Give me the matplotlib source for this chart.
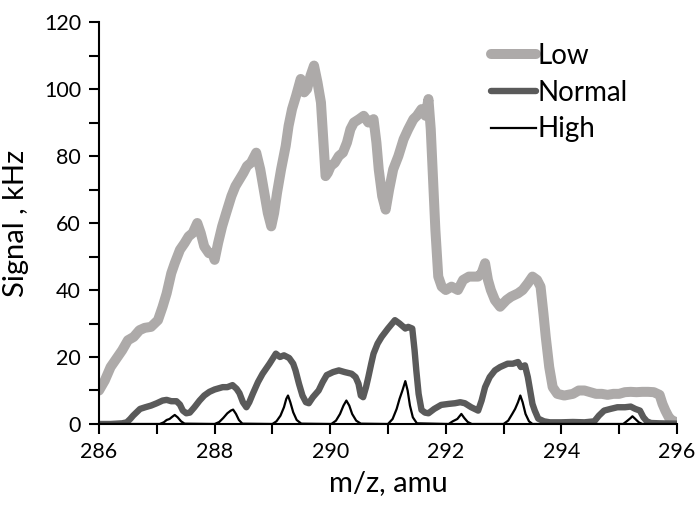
import matplotlib
matplotlib.use("Agg")
import matplotlib.pyplot as plt
from matplotlib.ticker import MultipleLocator

plt.rcParams['font.family'] = ['Lato', 'DejaVu Sans']

low_x = [286.0, 286.1, 286.2, 286.28, 286.4, 286.5, 286.6, 286.7, 286.79, 286.9, 287.02, 287.1, 287.17, 287.25,
         287.31, 287.4, 287.48, 287.55, 287.62, 287.70, 287.76, 287.82, 287.9, 287.96, 288.0, 288.06, 288.13, 288.2,
         288.29, 288.36, 288.43, 288.5, 288.56, 288.63, 288.72, 288.79, 288.86, 288.92, 288.98, 289.03, 289.08, 289.15,
         289.23, 289.28, 289.34, 289.41, 289.49, 289.55, 289.6, 289.66, 289.72, 289.78, 289.84, 289.88, 289.92, 289.96,
         290.01, 290.08, 290.15, 290.22, 290.29, 290.35, 290.41, 290.5, 290.58, 290.66, 290.75, 290.8, 290.84, 290.9,
         290.96, 291.02, 291.09, 291.18, 291.27, 291.35, 291.44, 291.5, 291.58, 291.65, 291.70, 291.74, 291.78, 291.82,
         291.87, 291.93, 292.0, 292.1, 292.21, 292.3, 292.4, 292.5, 292.56, 292.62, 292.68, 292.73, 292.78, 292.85,
         292.94, 293.05, 293.13, 293.25, 293.33, 293.42, 293.5, 293.58, 293.64, 293.69, 293.73, 293.79, 293.85, 293.93,
         294.05, 294.2, 294.3, 294.4, 294.5, 294.6, 294.7, 294.8, 294.9, 295.0, 295.1, 295.2, 295.3, 295.4, 295.5,
         295.6, 295.7, 295.75, 295.8, 295.86, 295.92, 296.0]
low_y = [10, 13, 17, 19, 22, 25, 26, 28, 28.7, 29, 31, 35, 39, 45,
         48, 52, 54, 56, 57, 60, 57, 53, 51, 51, 49, 54, 59, 63,
         68, 71, 73, 75, 77, 78, 81, 76, 69, 63, 59, 63, 69, 76,
         83, 89, 94, 98, 103, 99, 100, 104, 107, 102, 96, 85, 74, 75,
         77, 78, 80, 81, 84, 88, 90, 91, 92, 90, 91, 84, 76, 68,
         64, 70, 76, 80, 85, 88, 91, 92, 94, 92, 97, 88, 73, 58,
         44, 41, 40, 41, 40, 43, 44, 44, 44, 45, 48, 43, 40, 37,
         35, 37, 38, 39, 40, 42, 44, 43, 41, 33, 26, 17, 11, 9,
         8.5, 9, 10, 10, 9.5, 9, 9, 8.7, 9, 9, 9.5, 9.6, 9.5, 9.6, 9.6,
         9.5, 8.7, 6, 4, 2, 1, 0.5]

normal_x = [286.0, 286.2, 286.4, 286.48, 286.54, 286.59, 286.65, 286.71, 286.8, 286.9, 287.0, 287.1, 287.17, 287.25,
            287.34, 287.4, 287.45, 287.51, 287.57, 287.65, 287.74, 287.82, 287.91, 288.0, 288.14, 288.22, 288.31,
            288.38, 288.43, 288.49, 288.55, 288.6, 288.66, 288.75, 288.83, 288.95, 289.06, 289.13, 289.2, 289.29,
            289.36, 289.4, 289.46, 289.52, 289.58, 289.63, 289.7, 289.8, 289.87, 289.94, 290.05, 290.15, 290.25,
            290.37, 290.44, 290.49, 290.53, 290.57, 290.62, 290.66, 290.71, 290.75, 290.82, 290.89, 291.0, 291.12,
            291.2, 291.3, 291.35, 291.42, 291.46, 291.49, 291.53, 291.58, 291.64, 291.7, 291.8, 291.92, 292.05,
            292.16, 292.25, 292.33, 292.44, 292.5, 292.56, 292.62, 292.68, 292.76, 292.85, 292.94, 293.07, 293.16,
            293.25, 293.3, 293.37, 293.42, 293.45, 293.5, 293.54, 293.6, 293.7, 293.8, 294.0, 294.2, 294.4, 294.57,
            294.65, 294.74, 294.85, 294.97, 295.1, 295.2, 295.28, 295.36, 295.42, 295.48, 295.55, 295.7, 296.0]
normal_y = [0, 0, 0.2, 0.5, 1.5, 2.5, 3.5, 4.5, 5, 5.5, 6.2, 7, 7.2, 6.8,
            6.8, 5.8, 4, 3.2, 3.4, 5, 7, 8.5, 9.6, 10.3, 11, 11, 11.6,
            10.5, 9.2, 6.5, 5, 6.5, 9, 12.5, 15, 18, 21, 20, 20.5, 19.7,
            18, 16, 12, 8.5, 6.5, 6.2, 8, 10, 12.5, 14.6, 15.5, 16, 15.5,
            15, 14, 12, 8.5, 8, 11, 14, 18, 21, 24, 26, 28.5, 31,
            30, 28.5, 29, 28.5, 22, 16, 9, 4.2, 3.4, 3.2, 4.5, 5.7, 6,
            6.2, 6.5, 6.2, 5, 4.5, 4, 7, 11, 14, 16, 17, 18, 18,
            18.5, 17, 17.5, 14, 11, 6, 4, 1.6, 0.8, 0.5, 0.5, 0.6, 0.5, 0.8,
            2.5, 4, 4.5, 5, 5, 5.2, 4.5, 4, 2, 0.8, 0.3, 0.2, 0.1]

high_x = [286.0, 287.05, 287.12, 287.17, 287.22, 287.27, 287.31, 287.36, 287.42, 287.48,
          288.0, 288.08, 288.15, 288.22, 288.28, 288.32, 288.37, 288.42, 288.48,
          289.0, 289.07, 289.14, 289.2, 289.24, 289.27, 289.31, 289.36, 289.42, 289.5,
          290.02, 290.1, 290.17, 290.23, 290.28, 290.33, 290.38, 290.45, 290.53,
          291.0, 291.08, 291.15, 291.2, 291.25, 291.3, 291.34, 291.38, 291.43, 291.5,
          292.05, 292.12, 292.2, 292.27, 292.32, 292.38, 292.45,
          293.0, 293.08, 293.15, 293.2, 293.25, 293.29, 293.33, 293.38, 293.44, 293.5,
          295.07, 295.13, 295.2, 295.23, 295.28, 295.34, 295.4, 296.0]
high_y = [0, 0, 0.5, 1.2, 1.5, 2.2, 2.7, 2.0, 0.8, 0.1,
          0, 0.6, 1.8, 3.2, 4.0, 4.3, 3.0, 1.2, 0.1,
          0, 0.8, 2.5, 5, 7.5, 8.5, 6.5, 3.5, 1.2, 0.1,
          0, 1, 3, 5.5, 7, 5.5, 3, 1, 0.1,
          0, 1.5, 4.5, 7.5, 10, 12.8, 10, 5.5, 2, 0.2,
          0, 0.8, 1.5, 3, 1.8, 0.6, 0,
          0, 1, 3, 4.5, 6.5, 8.5, 6.5, 3, 0.8, 0,
          0, 0.8, 1.8, 2.3, 1.5, 0.5, 0, 0]

series_names = ['Low', 'Normal', 'High']
x_ticks = [286, 288, 290, 292, 294, 296]
y_ticks = [0, 20, 40, 60, 80, 100, 120]

fig = plt.figure(figsize=(6.95, 5.05), dpi=100)
ax = fig.add_axes([0.1425, 0.1604, 0.8315, 0.7960])

ax.plot(low_x, low_y, color='#ADAAA9', lw=7.2, solid_joinstyle='round', solid_capstyle='round', label=series_names[0])
ax.plot(normal_x, normal_y, color='#5A5A5A', lw=4.6, solid_joinstyle='round', solid_capstyle='round', label=series_names[1])
ax.plot(high_x, high_y, color='#000000', lw=1.6, label=series_names[2])

ax.set_xlim(286, 296)
ax.set_ylim(0, 120)
ax.set_xticks(x_ticks)
ax.set_yticks(y_ticks)
ax.xaxis.set_minor_locator(MultipleLocator(1))
ax.yaxis.set_minor_locator(MultipleLocator(10))
for s in ['top', 'right']:
    ax.spines[s].set_visible(False)
for s in ['left', 'bottom']:
    ax.spines[s].set_linewidth(1.5)
ax.tick_params(which='both', direction='out', length=7, width=1.5, colors='black')
ax.tick_params(which='major', labelsize=15.5, pad=6)
ax.set_xlabel('m/z, amu', fontsize=21, labelpad=6)
ax.set_ylabel('Signal , kHz', fontsize=21, labelpad=11)

leg = ax.legend(loc='upper left', bbox_to_anchor=(0.655, 0.982), frameon=False, fontsize=20,
                handlelength=1.6, handletextpad=0.05, labelspacing=0.38, borderpad=0)

fig.savefig('out.png', dpi=100)
